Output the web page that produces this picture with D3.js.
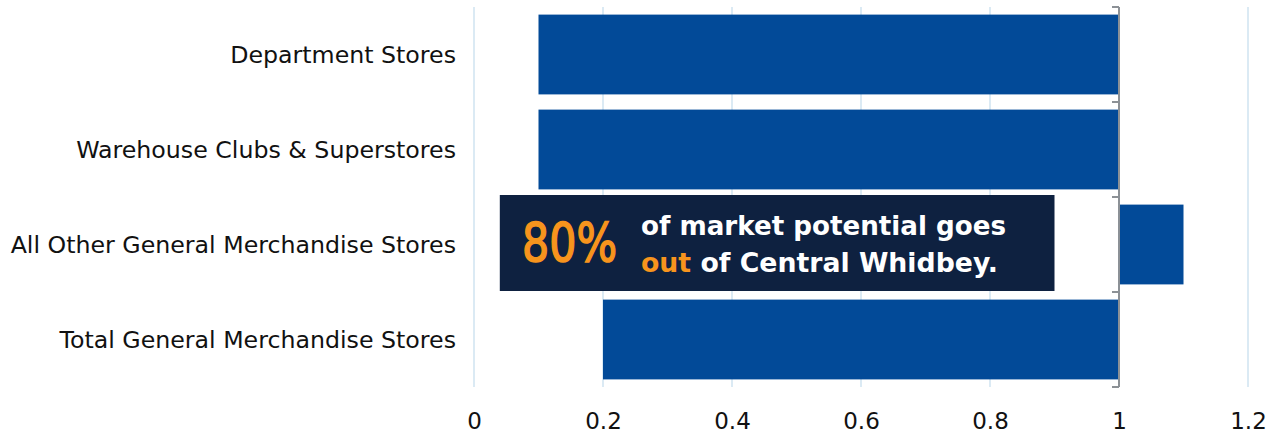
<!DOCTYPE html>
<html>
<head>
<meta charset="utf-8">
<script src="https://cdn.jsdelivr.net/npm/d3@7"></script>
<style>
  html, body { margin: 0; padding: 0; background: #fff; }
  svg { display: block; }
  text { font-family: "DejaVu Sans", sans-serif; }
</style>
</head>
<body>
<svg id="chart" width="1281" height="435"></svg>
<script>
const categories = [
  "Department Stores",
  "Warehouse Clubs & Superstores",
  "All Other General Merchandise Stores",
  "Total General Merchandise Stores"
];
const barStart = [0.1, 0.1, 1.0, 0.2];
const barEnd   = [1.0, 1.0, 1.1, 1.0];
const xTicks = [0, 0.2, 0.4, 0.6, 0.8, 1, 1.2];
const xTickLabels = ["0", "0.2", "0.4", "0.6", "0.8", "1", "1.2"];
const calloutBig = "80%";
const calloutLine1 = "of market potential goes";
const calloutLine2Hl = "out";
const calloutLine2 = " of Central Whidbey.";

const svg = d3.select("#chart");
const x = d3.scaleLinear().domain([0, 1.2]).range([474, 1248]);
const y = d3.scaleBand().domain(categories).range([7, 387]).paddingInner(0.16).paddingOuter(0.08);

// gridlines
svg.append("g").selectAll("line").data(xTicks.filter(t => t !== 1)).join("line")
  .attr("x1", d => x(d)).attr("x2", d => x(d))
  .attr("y1", 7).attr("y2", 387)
  .attr("stroke", "#cfe3f1").attr("stroke-width", 1.5);

// bars
const data = categories.map((c, i) => ({c, s: barStart[i], e: barEnd[i]}));
svg.append("g").selectAll("rect").data(data).join("rect")
  .attr("x", d => x(d.s))
  .attr("y", d => y(d.c))
  .attr("width", d => x(d.e) - x(d.s))
  .attr("height", y.bandwidth())
  .attr("fill", "#024a98");

// vertical category axis at x = 1
const yAxisG = svg.append("g").attr("transform", `translate(${x(1)},0)`);
yAxisG.append("line").attr("x1", 0).attr("x2", 0).attr("y1", 7).attr("y2", 387)
  .attr("stroke", "#8c9196").attr("stroke-width", 2);
const boundaries = d3.range(categories.length + 1).map(i => 7 + i * y.step());
yAxisG.selectAll("line.tk").data(boundaries).join("line").attr("class", "tk")
  .attr("x1", -7).attr("x2", 0).attr("y1", d => d).attr("y2", d => d)
  .attr("stroke", "#8c9196").attr("stroke-width", 2);

// category labels
svg.append("g").selectAll("text").data(categories).join("text")
  .attr("x", 456)
  .attr("y", d => y(d) + y.bandwidth() / 2)
  .attr("dy", "0.36em")
  .attr("text-anchor", "end")
  .attr("font-size", 23.7)
  .attr("fill", "#111")
  .text(d => d);

// x tick labels
const xAxis = d3.axisBottom(x).tickValues(xTicks).tickSize(0).tickFormat((d, i) => xTickLabels[i]);
const xg = svg.append("g").attr("transform", "translate(0,404)").call(xAxis);
xg.select(".domain").remove();
xg.selectAll("text").attr("font-size", 23).attr("fill", "#111")
  .attr("font-family", '"DejaVu Sans", sans-serif')
  .attr("dy", "0.95em");

// callout
const cb = svg.append("g");
const cy0 = 195;
const cf = '"DejaVu Sans Condensed", "DejaVu Sans", sans-serif';
cb.append("rect").attr("x", x(0.04)).attr("y", cy0).attr("width", x(0.9) - x(0.04)).attr("height", 96)
  .attr("fill", "#0e2140");
cb.append("text").attr("x", 522).attr("y", cy0 + 66).attr("font-size", 53).attr("font-weight", "normal")
  .attr("font-family", cf).attr("textLength", 95).attr("lengthAdjust", "spacingAndGlyphs")
  .attr("stroke", "#f7941d").attr("stroke-width", 1.6)
  .attr("fill", "#f7941d").text(calloutBig);
cb.append("text").attr("x", 641).attr("y", cy0 + 40).attr("font-size", 26.5).attr("font-weight", "bold")
  .attr("font-family", cf).attr("textLength", 365).attr("lengthAdjust", "spacingAndGlyphs")
  .attr("fill", "#fff").text(calloutLine1);
const t2 = cb.append("text").attr("x", 641).attr("y", cy0 + 77).attr("font-size", 26.5).attr("font-weight", "bold")
  .attr("font-family", cf).attr("textLength", 357).attr("lengthAdjust", "spacingAndGlyphs")
  .attr("fill", "#fff");
t2.append("tspan").attr("fill", "#f7941d").text(calloutLine2Hl);
t2.append("tspan").text(calloutLine2);
</script>
</body>
</html>
